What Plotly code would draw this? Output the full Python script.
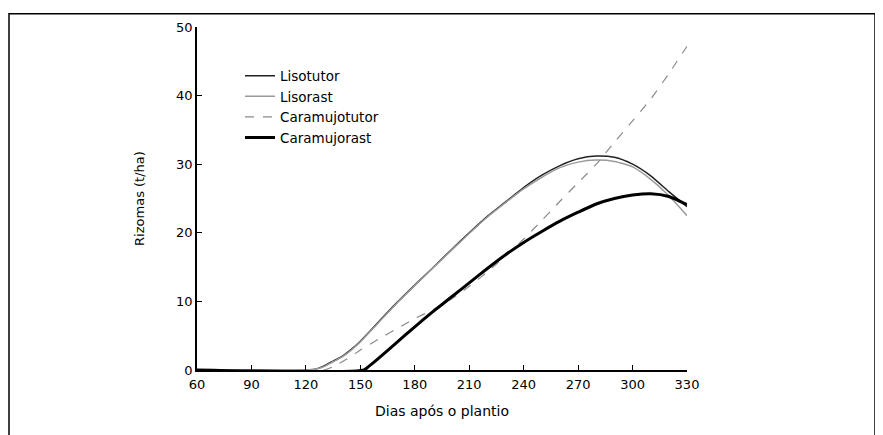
import plotly.graph_objects as go

# ---- data ----
lisotutor_x = [60, 120, 125, 130, 135, 140, 145, 150, 160, 170, 180, 190, 200, 210, 220, 230, 240, 250, 260, 270, 280, 290, 300, 310, 320, 330]
lisotutor_y = [0, 0, 0.1, 0.6, 1.3, 2.0, 3.0, 4.2, 7.0, 9.8, 12.4, 14.9, 17.5, 20.0, 22.4, 24.5, 26.6, 28.4, 29.8, 30.8, 31.2, 31.0, 30.0, 28.3, 26.0, 23.8]

lisorast_x = [60, 120, 125, 130, 135, 140, 145, 150, 160, 170, 180, 190, 200, 210, 220, 230, 240, 250, 260, 270, 280, 290, 300, 310, 320, 330]
lisorast_y = [0, 0, 0.1, 0.5, 1.2, 1.9, 2.9, 4.1, 6.9, 9.7, 12.3, 14.9, 17.4, 19.9, 22.3, 24.4, 26.4, 28.1, 29.5, 30.3, 30.6, 30.4, 29.6, 27.8, 25.4, 22.5]

caramujotutor_x = [60, 130, 135, 140, 145, 150, 160, 170, 180, 190, 200, 210, 220, 230, 240, 250, 260, 270, 280, 290, 300, 310, 320, 330]
caramujotutor_y = [0, 0, 0.5, 1.2, 2.0, 2.9, 4.5, 6.0, 7.5, 8.8, 10.3, 12.2, 14.3, 16.6, 19.1, 21.8, 24.6, 27.3, 30.0, 33.2, 36.3, 39.5, 43.2, 47.2]

caramujorast_x = [60, 152, 155, 160, 170, 180, 190, 200, 210, 220, 230, 240, 250, 260, 270, 280, 290, 300, 310, 320, 330]
caramujorast_y = [0, 0, 0.6, 1.7, 4.0, 6.3, 8.5, 10.6, 12.7, 14.8, 16.8, 18.6, 20.2, 21.7, 23.0, 24.2, 25.0, 25.5, 25.7, 25.3, 24.1]

names = ["Lisotutor", "Lisorast", "Caramujotutor", "Caramujorast"]
x_ticks = [60, 90, 120, 150, 180, 210, 240, 270, 300, 330]
y_ticks = [0, 10, 20, 30, 40, 50]

FONT = "DejaVu Sans, sans-serif"

fig = go.Figure()
series = [
    (lisotutor_x, lisotutor_y, dict(color="#222222", width=1.5)),
    (lisorast_x, lisorast_y, dict(color="#9a9a9a", width=1.5)),
    (caramujotutor_x, caramujotutor_y, dict(color="#8a8a8a", width=1.2, dash="dash")),
    (caramujorast_x, caramujorast_y, dict(color="#000000", width=3)),
]
for i, ((xs, ys, ln), nm) in enumerate(zip(series, names)):
    fig.add_trace(go.Scatter(x=xs, y=ys, mode="lines", name=nm, line=dict(shape="spline", smoothing=0.6, **ln),
                             legendgroup=nm))

# page is offset by the 8px body margin
W, H = 875, 427
L, R, T, B = 189, 196, 14, 65
pw, ph = W - L - R, H - T - B

def px(x):
    return (x - L) / pw

def py(y):
    return (H - B - y) / ph

fig.update_layout(
    width=W, height=H,
    margin=dict(l=L, r=R, t=T, b=B),
    paper_bgcolor="white", plot_bgcolor="white",
    font=dict(family=FONT, size=13, color="black"),
    showlegend=True,
    legend=dict(x=px(232), y=py(48), xanchor="left", yanchor="top", bgcolor="rgba(0,0,0,0)",
                font=dict(size=13.5, color="black"), traceorder="grouped", tracegroupgap=0),
    xaxis=dict(range=[60, 330], tickvals=x_ticks, ticks="inside", ticklen=5, tickcolor="black",
               showline=True, linecolor="black", linewidth=1.5, showgrid=False, zeroline=False,
               title=dict(text="Dias após o plantio", font=dict(size=14), standoff=15),
               tickfont=dict(size=13), ticklabelstandoff=2),
    yaxis=dict(range=[0, 50], tickvals=y_ticks, ticks="inside", ticklen=5, tickcolor="black",
               showline=True, linecolor="black", linewidth=1.5, showgrid=False, zeroline=False,
               title=dict(text="Rizomas (t/ha)", font=dict(size=13), standoff=29),
               tickfont=dict(size=13)),
    shapes=[dict(type="rect", xref="paper", yref="paper", x0=px(1), x1=px(867), y0=py(440), y1=py(0.5),
                 line=dict(color="black", width=1.5), fillcolor="rgba(0,0,0,0)", layer="below")],
)
fig.write_html("out.html")
